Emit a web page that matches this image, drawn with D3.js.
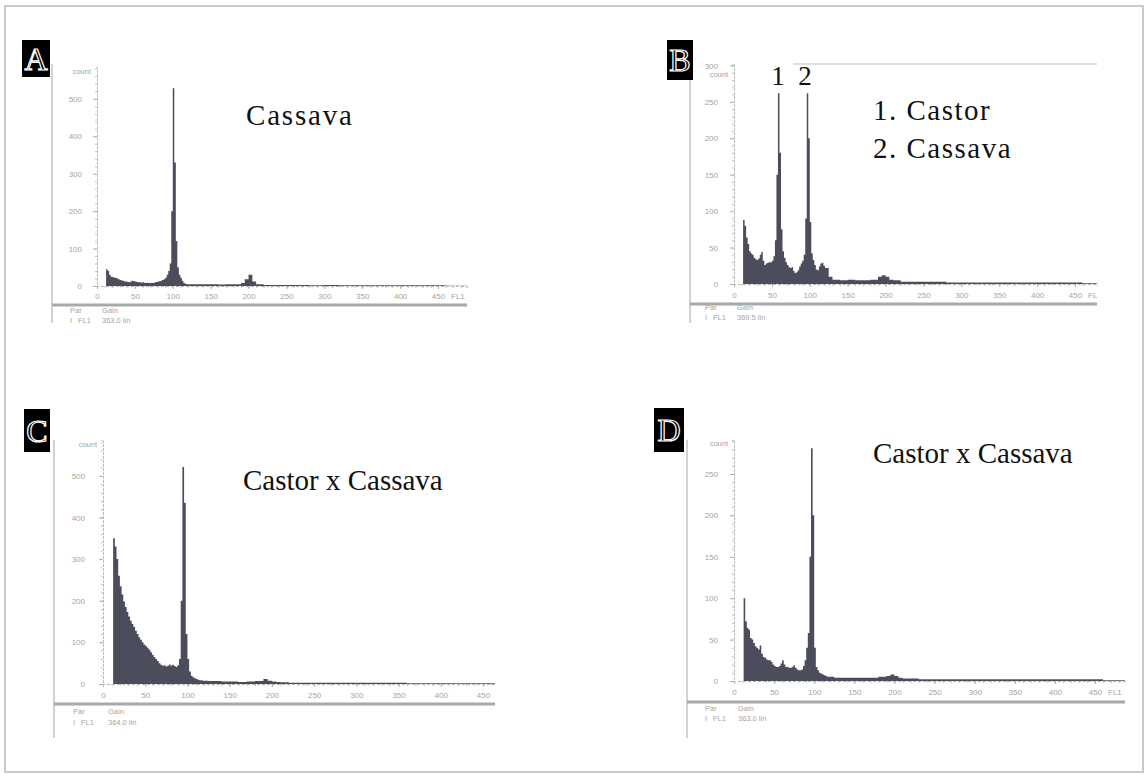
<!DOCTYPE html>
<html>
<head>
<meta charset="utf-8">
<script src="https://cdn.jsdelivr.net/npm/d3@7"></script>
<style>
  body { margin: 0; background: #fff; }
  svg { display: block; }
</style>
</head>
<body>
<svg id="chart" width="1147" height="778"></svg>
<script>
// FL1 channel of each histogram bin (left edge)
var channels = [
  12,14,16,18,20,22,24,26,28,30,
  32,34,36,38,40,42,44,46,48,50,
  52,54,56,58,60,62,64,66,68,70,
  72,74,76,78,80,82,84,86,88,90,
  92,94,96,98,100,102,104,106,108,110,
  112,114,116,118,120,
  125,130,140,150,160,170,180,190,195,200,
  205,210,220,230,240,260,280,300,320,340,
  360,380,400,420,440,460,480
];

// A: Cassava
var countsA = [
  45,40,30,25,24,22,22,20,18,16,
  15,14,12,12,11,10,12,14,13,12,
  11,10,10,9,10,9,8,9,8,8,
  9,8,10,11,12,13,14,16,18,22,
  30,40,60,200,528,330,120,50,30,22,
  14,8,6,5,5,
  5,5,5,5,4,5,5,8,18,30,
  12,5,3,3,3,3,2,3,2,2,
  2,2,2,2,2,1,1
];

// B: Castor + Cassava mix
var countsB = [
  88,80,64,55,45,42,40,36,34,33,
  35,40,44,32,26,28,29,30,30,32,
  38,60,150,262,180,75,45,36,30,26,
  23,22,23,18,15,16,19,24,28,32,
  40,90,262,200,85,42,33,26,20,19,
  24,28,29,25,22,
  10,6,5,6,5,5,6,10,12,10,
  6,5,3,3,3,3,2,2,2,2,
  2,2,2,2,2,1,1
];

// C: Castor x Cassava
var countsC = [
  350,330,300,260,235,215,198,185,173,162,
  152,144,137,128,120,112,106,100,95,91,
  87,82,76,70,65,60,55,50,46,44,
  45,42,44,47,44,46,43,41,45,60,
  200,521,435,120,60,30,20,16,14,12,
  10,9,9,8,8,
  7,7,6,6,5,6,7,12,8,6,
  5,4,3,3,3,3,3,3,3,3,
  2,2,2,2,2,2,2
];

// D: Castor x Cassava
var countsD = [
  100,72,64,62,52,50,46,42,40,38,
  43,33,29,28,26,25,25,23,20,18,
  17,17,18,21,25,20,17,17,16,16,
  17,19,16,14,13,13,14,18,25,40,
  58,150,281,200,40,17,13,10,9,8,
  7,6,5,5,5,
  4,4,4,4,4,4,5,6,8,6,
  4,3,3,2,2,2,2,2,2,2,
  2,2,2,2,2,1,1
];

var panelLetters = ["A", "B", "C", "D"];
var xTicks = [0, 50, 100, 150, 200, 250, 300, 350, 400, 450];
var yTicksA = [0, 100, 200, 300, 400, 500];
var yTicksB = [0, 50, 100, 150, 200, 250, 300];
var yTicksC = [0, 100, 200, 300, 400, 500];
var yTicksD = [0, 50, 100, 150, 200, 250];
var gainValues = ["363.0 lin", "369.5 lin", "364.0 lin", "363.0 lin"];

var svg = d3.select("#chart");
var histColor = "#4b4d5d";
var faint = "#a4a4a4";

// outer frame of the figure
svg.append("rect")
  .attr("x", 5).attr("y", 6)
  .attr("width", 1138).attr("height", 766)
  .attr("fill", "none")
  .attr("stroke", "#c9c9c9")
  .attr("stroke-width", 2);

// layout of each panel (pixels)
var panels = [
  { letter: panelLetters[0], counts: countsA, yTicks: yTicksA, gain: gainValues[0],
    box: [22, 40, 28, 37], xr: [97, 438], xEnd: 488, yr: [286, 67], yMax: 585, yMinor: 20,
    frameX: 52, frameTop: 64, frameBottom: 323, barY: 305, axisRight: 467,
    xPad: 4, yPad: 11, countY: 72, flLabel: "FL1",
    parX: 70, gainX: 102, parY: 313, rowY: 323 },
  { letter: panelLetters[1], counts: countsB, yTicks: yTicksB, gain: gainValues[1],
    box: [667, 40, 26, 40], xr: [734, 1075], xEnd: 479, yr: [284, 64], yMax: 302, yMinor: 10,
    frameX: 690, frameTop: 64, frameBottom: 323, barY: 304, axisRight: 1097,
    xPad: 5, yPad: 12, countY: 75, flLabel: "FL",
    parX: 705, gainX: 737, parY: 310, rowY: 320 },
  { letter: panelLetters[2], counts: countsC, yTicks: yTicksC, gain: gainValues[2],
    box: [24, 409, 26, 43], xr: [103, 483], xEnd: 464, yr: [684, 440], yMax: 586, yMinor: 20,
    frameX: 54, frameTop: 440, frameBottom: 738, barY: 704, axisRight: 495,
    xPad: 5, yPad: 14, countY: 445, flLabel: "",
    parX: 73, gainX: 108, parY: 714, rowY: 725 },
  { letter: panelLetters[3], counts: countsD, yTicks: yTicksD, gain: gainValues[3],
    box: [654, 408, 30, 44], xr: [734, 1095], xEnd: 487, yr: [681, 440], yMax: 291, yMinor: 10,
    frameX: 687, frameTop: 440, frameBottom: 738, barY: 702, axisRight: 1125,
    xPad: 5, yPad: 12, countY: 444, flLabel: "FL1",
    parX: 705, gainX: 738, parY: 711, rowY: 721 }
];

var drawPanel = function(p) {
  var g = svg.append("g");
  var x = d3.scaleLinear().domain([0, 450]).range(p.xr);
  var y = d3.scaleLinear().domain([0, p.yMax]).range(p.yr);

  // left frame line and bottom bar of the instrument printout
  g.append("line")
    .attr("x1", p.frameX).attr("x2", p.frameX)
    .attr("y1", p.frameTop).attr("y2", p.frameBottom)
    .attr("stroke", "#d2d2d2").attr("stroke-width", 2);
  g.append("line")
    .attr("x1", p.frameX).attr("x2", p.axisRight)
    .attr("y1", p.barY).attr("y2", p.barY)
    .attr("stroke", "#a9a9a9").attr("stroke-width", 3);

  // histogram
  var bins = channels.map(function(c, i){ return {c: c, n: p.counts[i]}; });
  bins.push({c: p.xEnd, n: p.counts[p.counts.length - 1]});
  var area = d3.area()
    .curve(d3.curveStepAfter)
    .x(function(d){ return x(d.c); })
    .y0(y(0))
    .y1(function(d){ return y(d.n); });
  g.append("path").datum(bins)
    .attr("d", area)
    .attr("fill", histColor);

  // x axis: dashed baseline with ticks
  var xFull = d3.scaleLinear().domain([0, p.xEnd]).range([p.xr[0], x(p.xEnd)]);
  var xMinor = g.append("g")
    .attr("transform", "translate(0," + y(0) + ")")
    .call(d3.axisBottom(xFull).tickValues(d3.range(0, p.xEnd, 10)).tickSize(2).tickFormat(""));
  xMinor.select(".domain").attr("stroke", "#b5b5b5").attr("stroke-dasharray", "3,2");
  xMinor.selectAll(".tick line").attr("stroke", "#c0c0c0");

  var xAx = g.append("g")
    .attr("transform", "translate(0," + y(0) + ")")
    .call(d3.axisBottom(x).tickValues(xTicks).tickSize(3).tickPadding(p.xPad).tickFormat(d3.format("d")));
  xAx.select(".domain").remove();
  xAx.selectAll(".tick line").attr("stroke", "#b0b0b0");
  xAx.selectAll("text")
    .attr("fill", faint)
    .style("font-family", "Liberation Sans, Arial, sans-serif")
    .style("font-size", "8px");

  if (p.flLabel) {
    g.append("text")
      .attr("x", x(450) + 13).attr("y", y(0) + p.xPad + 3)
      .attr("dy", "0.71em")
      .attr("fill", faint)
      .style("font-family", "Liberation Sans, Arial, sans-serif")
      .style("font-size", "8px")
      .text(p.flLabel);
  }

  // y axis with minor ticks
  var yMinorAx = g.append("g")
    .attr("transform", "translate(" + p.xr[0] + ",0)")
    .call(d3.axisLeft(y).tickValues(d3.range(0, p.yMax, p.yMinor)).tickSize(2).tickFormat(""));
  yMinorAx.select(".domain").attr("stroke", "#bdbdbd").attr("stroke-dasharray", "3,1");
  yMinorAx.selectAll(".tick line").attr("stroke", "#c4c4c4");

  var yAx = g.append("g")
    .attr("transform", "translate(" + p.xr[0] + ",0)")
    .call(d3.axisLeft(y).tickValues(p.yTicks).tickSize(4).tickPadding(p.yPad).tickFormat(d3.format("d")));
  yAx.select(".domain").remove();
  yAx.selectAll(".tick line").attr("stroke", "#b0b0b0");
  yAx.selectAll("text")
    .attr("fill", faint)
    .style("font-family", "Liberation Sans, Arial, sans-serif")
    .style("font-size", "8px");

  g.append("text")
    .attr("x", p.xr[0] - 6).attr("y", p.countY)
    .attr("text-anchor", "end")
    .attr("dominant-baseline", "middle")
    .attr("fill", faint)
    .style("font-family", "Liberation Sans, Arial, sans-serif")
    .style("font-size", "7.5px")
    .text("count");

  // parameter block under the bar
  var small = function(tx, ty, s) {
    g.append("text")
      .attr("x", tx).attr("y", ty)
      .attr("fill", faint)
      .style("font-family", "Liberation Sans, Arial, sans-serif")
      .style("font-size", "7.5px")
      .text(s);
  };
  small(p.parX, p.parY, "Par");
  small(p.gainX, p.parY, "Gain");
  small(p.parX, p.rowY, "I");
  small(p.parX + 8, p.rowY, "FL1");
  small(p.gainX, p.rowY, p.gain);

  // panel letter badge
  g.append("rect")
    .attr("x", p.box[0]).attr("y", p.box[1])
    .attr("width", p.box[2]).attr("height", p.box[3])
    .attr("fill", "#000");
  g.append("text")
    .attr("x", p.box[0] + p.box[2] / 2)
    .attr("y", p.box[1] + p.box[3] / 2 + 11)
    .attr("text-anchor", "middle")
    .attr("fill", "#000")
    .attr("stroke", "#fff")
    .attr("stroke-width", 1.2)
    .style("font-family", "Liberation Serif, Times New Roman, serif")
    .style("font-size", "32px")
    .text(p.letter);
};

panels.forEach(drawPanel);

// top frame line of panel B printout
svg.append("line")
  .attr("x1", 793).attr("x2", 1097)
  .attr("y1", 64).attr("y2", 64)
  .attr("stroke", "#d6d6d6").attr("stroke-width", 1.5);

// annotations
var titleText = function(tx, ty, s, spacing) {
  svg.append("text")
    .attr("x", tx).attr("y", ty)
    .attr("fill", "#111")
    .style("font-family", "Liberation Serif, Times New Roman, serif")
    .style("font-size", "29px")
    .style("letter-spacing", spacing + "px")
    .text(s);
};
titleText(246, 125, "Cassava", 1.8);
titleText(873, 120, "1. Castor", 1.5);
titleText(873, 158, "2. Cassava", 1.5);
titleText(243, 490, "Castor x Cassava", 0);
titleText(873, 463, "Castor x Cassava", 0);

svg.append("text")
  .attr("x", 778).attr("y", 85)
  .attr("text-anchor", "middle")
  .attr("fill", "#111")
  .style("font-family", "Liberation Serif, Times New Roman, serif")
  .style("font-size", "27px")
  .text("1");
svg.append("text")
  .attr("x", 805).attr("y", 85)
  .attr("text-anchor", "middle")
  .attr("fill", "#111")
  .style("font-family", "Liberation Serif, Times New Roman, serif")
  .style("font-size", "27px")
  .text("2");
</script>
</body>
</html>
